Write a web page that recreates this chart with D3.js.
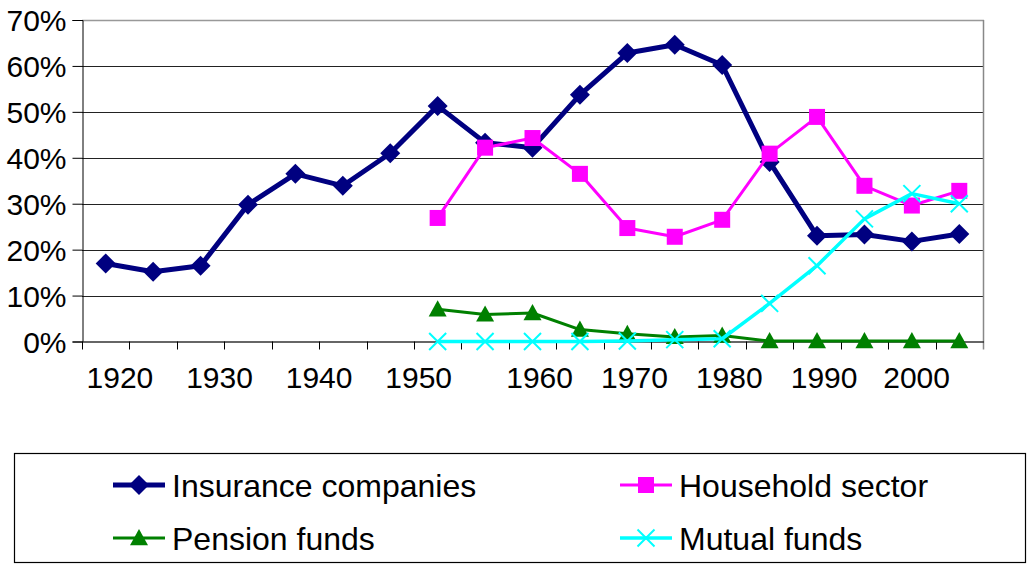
<!DOCTYPE html>
<html>
<head>
<meta charset="utf-8">
<script src="https://cdn.jsdelivr.net/npm/d3@7"></script>
<style>
  body { margin: 0; background: #fff; }
  text { font-family: "Liberation Sans", Arial, sans-serif; fill: #000; }
</style>
</head>
<body>
<div id="chart"></div>
<script>
(function() {

    var width = 1031;
    var height = 569;

    // categories (one per plotted point)
    var periods = ["1918", "1923", "1928", "1933", "1938", "1943", "1948", "1952", "1956", "1960",
                   "1964", "1970", "1974", "1979", "1984", "1989", "1994", "1999", "2004"];

    // shares of holdings, in percent (null = no value)
    var insurance = [17.0, 15.2, 16.5, 29.8, 36.5, 33.9, 41.0, 51.3, 43.3, 42.2,
                     53.7, 62.8, 64.6, 60.2, 39.1, 23.0, 23.3, 21.8, 23.4];
    var household = [null, null, null, null, null, null, null, 26.9, 42.2, 44.3,
                     36.5, 24.7, 22.8, 26.5, 40.9, 48.9, 33.9, 29.6, 32.8];
    var pension   = [null, null, null, null, null, null, null, 7.0, 5.9, 6.2,
                     2.6, 1.7, 1.0, 1.3, 0.1, 0.1, 0.1, 0.1, 0.1];
    var mutual    = [null, null, null, null, null, null, null, 0.0, 0.0, 0.0,
                     0.0, 0.1, 0.4, 0.6, 8.3, 16.5, 26.7, 32.2, 30.0];

    // axis labels
    var yTicks = [0, 10, 20, 30, 40, 50, 60, 70];
    var xLabels = ["1920", "1930", "1940", "1950", "1960", "1970", "1980", "1990", "2000"];
    var xLabelAt = [0.3, 2.4, 4.5, 6.6, 9.15, 11.15, 13.15, 15.15, 17.1];

    var series = [
        { name: "Insurance companies", values: insurance, color: "#000080", width: 5, marker: "diamond" },
        { name: "Household sector",    values: household, color: "#FF00FF", width: 3, marker: "square" },
        { name: "Pension funds",       values: pension,   color: "#008000", width: 3, marker: "triangle" },
        { name: "Mutual funds",        values: mutual,    color: "#00FFFF", width: 3.5, marker: "cross" }
    ];

    var plot = { left: 82, right: 983, top: 20, bottom: 341.5 };

    var svg = d3.select("#chart")
        .append("svg")
        .attr("width", width)
        .attr("height", height);

    // index scale for category positions
    var x = d3.scaleLinear()
        .domain([-0.5, periods.length - 0.5])
        .range([plot.left, plot.right]);

    var y = d3.scaleLinear()
        .domain([0, 70])
        .range([plot.bottom, plot.top]);

    // gridlines
    svg.append("g")
        .selectAll("line")
        .data(yTicks.filter(d => d > 0 && d < 70))
        .enter().append("line")
        .attr("x1", plot.left).attr("x2", plot.right)
        .attr("y1", d => Math.round(y(d)) + 0.5).attr("y2", d => Math.round(y(d)) + 0.5)
        .attr("stroke", "#222")
        .attr("stroke-width", 1);

    // plot frame (top and right in gray)
    svg.append("line")
        .attr("x1", plot.left).attr("x2", plot.right + 1)
        .attr("y1", Math.round(plot.top) + 0.5).attr("y2", Math.round(plot.top) + 0.5)
        .attr("stroke", "#999").attr("stroke-width", 1.5);
    svg.append("line")
        .attr("x1", plot.right + 0.5).attr("x2", plot.right + 0.5)
        .attr("y1", plot.top).attr("y2", plot.bottom + 8)
        .attr("stroke", "#888").attr("stroke-width", 1.5);

    // y axis
    var yAxis = d3.axisLeft(y)
        .tickValues(yTicks)
        .tickSize(10)
        .tickPadding(6)
        .tickFormat(d => d + "%");
    var gy = svg.append("g")
        .attr("transform", "translate(" + (plot.left + 0.5) + ",0)")
        .call(yAxis);
    gy.selectAll("text").style("font-size", "30px").attr("dy", "0.36em");
    gy.selectAll("line, path").attr("stroke", "#000");

    // x axis: ticks between categories
    var boundaries = d3.range(periods.length).map(i => i - 0.5);
    var gx = svg.append("g");
    gx.append("line")
        .attr("x1", plot.left).attr("x2", plot.right + 1)
        .attr("y1", plot.bottom + 0.5).attr("y2", plot.bottom + 0.5)
        .attr("stroke", "#333").attr("stroke-width", 1.5);
    gx.selectAll("line.tick")
        .data(boundaries)
        .enter().append("line")
        .attr("class", "tick")
        .attr("x1", d => Math.round(x(d)) + 0.5).attr("x2", d => Math.round(x(d)) + 0.5)
        .attr("y1", plot.bottom).attr("y2", plot.bottom + 8)
        .attr("stroke", "#000");
    gx.selectAll("text")
        .data(xLabels)
        .enter().append("text")
        .attr("x", (d, i) => x(xLabelAt[i]))
        .attr("y", 388)
        .attr("text-anchor", "middle")
        .style("font-size", "30px")
        .text(d => d);

    function drawMarker(g, type, color, cx, cy, s) {
        if (type === "diamond") {
            g.append("path")
                .attr("d", "M" + cx + "," + (cy - s) + "L" + (cx + s) + "," + cy + "L" + cx + "," + (cy + s) + "L" + (cx - s) + "," + cy + "Z")
                .attr("fill", color);
        } else if (type === "square") {
            var h = s * 0.8;
            g.append("rect")
                .attr("x", cx - h).attr("y", cy - h)
                .attr("width", 2 * h).attr("height", 2 * h)
                .attr("fill", color);
        } else if (type === "triangle") {
            var t = s * 0.9;
            g.append("path")
                .attr("d", "M" + cx + "," + (cy - t) + "L" + (cx + t) + "," + (cy + t * 0.8) + "L" + (cx - t) + "," + (cy + t * 0.8) + "Z")
                .attr("fill", color);
        } else if (type === "cross") {
            var c = s * 0.85;
            g.append("path")
                .attr("d", "M" + (cx - c) + "," + (cy - c) + "L" + (cx + c) + "," + (cy + c) + "M" + (cx + c) + "," + (cy - c) + "L" + (cx - c) + "," + (cy + c))
                .attr("stroke", color)
                .attr("stroke-width", 2)
                .attr("fill", "none");
        }
    }

    // series
    var line = d3.line()
        .defined(d => d != null)
        .x((d, i) => x(i))
        .y(d => y(d));

    series.forEach(function(s) {
        var g = svg.append("g");
        g.append("path")
            .datum(s.values)
            .attr("d", line)
            .attr("fill", "none")
            .attr("stroke", s.color)
            .attr("stroke-width", s.width)
            .attr("stroke-linejoin", "round");
        s.values.forEach(function(v, i) {
            if (v == null) return;
            drawMarker(g, s.marker, s.color, x(i), y(v), 10);
        });
    });

    // legend
    var legend = svg.append("g");
    legend.append("rect")
        .attr("x", 14.5).attr("y", 453.5)
        .attr("width", 1011).attr("height", 109)
        .attr("fill", "none")
        .attr("stroke", "#000")
        .attr("stroke-width", 1.2);

    var legendPos = [
        { lx: 113, ly: 485 },
        { lx: 620, ly: 485 },
        { lx: 113, ly: 538 },
        { lx: 620, ly: 538 }
    ];

    series.forEach(function(s, i) {
        var p = legendPos[i];
        var g = legend.append("g");
        g.append("line")
            .attr("x1", p.lx).attr("x2", p.lx + 52)
            .attr("y1", p.ly).attr("y2", p.ly)
            .attr("stroke", s.color)
            .attr("stroke-width", s.width);
        drawMarker(g, s.marker, s.color, p.lx + 26, p.ly, 10);
        g.append("text")
            .attr("x", p.lx + 59)
            .attr("y", p.ly)
            .attr("dy", "0.36em")
            .style("font-size", "32px")
            .text(s.name);
    });

})();
</script>
</body>
</html>
